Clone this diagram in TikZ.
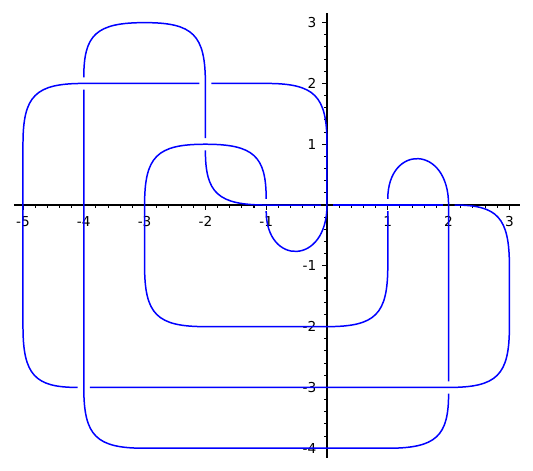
\documentclass[tikz,border=0pt]{standalone}
\usepackage{fontspec}
\setmainfont{DejaVu Sans}
\begin{document}
\begin{tikzpicture}[strand/.style={blue, line width=0.7pt},
  axisline/.style={black, line width=0.5pt},
  ticklabel/.style={inner sep=0pt, font=\fontsize{6.4}{7.7}\selectfont}]
  \useasboundingbox (-5.378,-4.359) rectangle (3.388,3.372);

  % Axes
  \coordinate (xmin) at (-5.15,0);
  \coordinate (xmax) at (3.17,0);
  \coordinate (ymin) at (0,-4.16);
  \coordinate (ymax) at (0,3.16);
  \draw[axisline] (xmin) -- (xmax);
  \draw[axisline] (ymin) -- (ymax);

  % Minor ticks
  \foreach \i in {-25,...,15}
    \draw[axisline] (\i*0.2,0) -- (\i*0.2,-0.045);
  \foreach \i in {-20,...,15}
    \draw[axisline] (0,\i*0.2) -- (-0.045,\i*0.2);

  % Major ticks and labels
  \foreach \x [count=\n] in {-5,-4,-3,-2,-1,1,2,3} {
    \draw[axisline] (\x,0) -- (\x,-0.08);
    \node[ticklabel] (xl\n) at (\x,-0.275) {\x};
  }
  \foreach \y [count=\n] in {-4,-3,-2,-1,1,2,3} {
    \draw[axisline] (0,\y) -- (-0.075,\y);
    \node[ticklabel, anchor=east] (yl\n) at (-0.17,\y) {\y};
  }

  % Knot strands
  \draw[strand] (-4.1,-3) .. controls (-4.8,-3) and (-5,-2.8) .. (-5,-2)
    -- (-5,1) .. controls (-5,1.8) and (-4.8,2) .. (-4,2) -- (-2.1,2);
  \draw[strand] (-1.9,2) -- (-1,2) .. controls (-0.2,2) and (0,1.8) .. (0,1)
    -- (0,0) .. controls (0,-1) and (-1,-1) .. (-1,-0.1);
  \draw[strand] (-1,0.1) .. controls (-1,0.8) and (-1.2,1) .. (-2,1)
    .. controls (-2.8,1) and (-3,0.8) .. (-3,0) -- (-3,-1)
    .. controls (-3,-1.8) and (-2.8,-2) .. (-2,-2) -- (0,-2)
    .. controls (0.8,-2) and (1,-1.8) .. (1,-1) -- (1,-0.1);
  \draw[strand] (1,0.1) .. controls (1,1) and (2,1) .. (2,0) -- (2,-2.9);
  \draw[strand] (2,-3.1) .. controls (2,-3.8) and (1.8,-4) .. (1,-4)
    -- (-3,-4) .. controls (-3.8,-4) and (-4,-3.8) .. (-4,-3) -- (-4,1.9);
  \draw[strand] (-4,2.1) .. controls (-4,2.8) and (-3.8,3) .. (-3,3)
    .. controls (-2.2,3) and (-2,2.8) .. (-2,2) -- (-2,1.1);
  \draw[strand] (-2,0.9) .. controls (-2,0.2) and (-1.8,0) .. (-1,0) -- (-0.1,0);
  \draw[strand] (0.1,0) -- (1.9,0);
  \draw[strand] (2.1,0) .. controls (2.8,0) and (3,-0.2) .. (3,-1) -- (3,-2)
    .. controls (3,-2.8) and (2.8,-3) .. (2,-3) -- (-3.9,-3);
\end{tikzpicture}
\end{document}
